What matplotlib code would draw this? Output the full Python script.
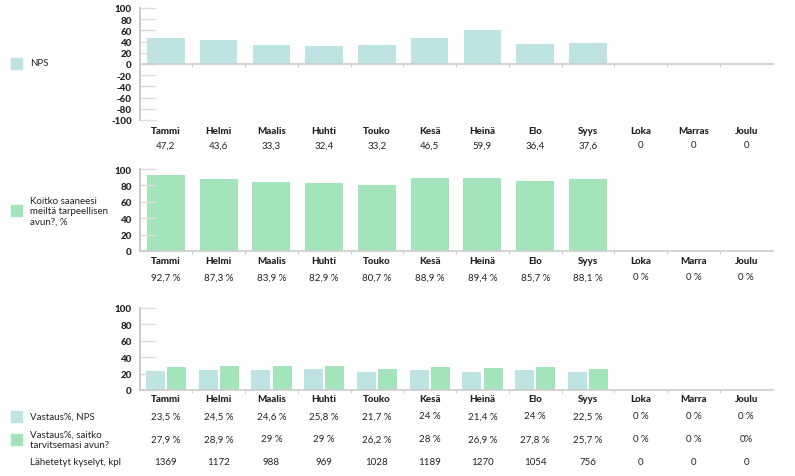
import matplotlib
matplotlib.use('Agg')
import matplotlib.pyplot as plt
from matplotlib.patches import Rectangle
from matplotlib.transforms import blended_transform_factory
import numpy as np

# ── Data ────────────────────────────────────────────────────────────────
months_1 = ['Tammi', 'Helmi', 'Maalis', 'Huhti', 'Touko', 'Kesä', 'Heinä',
            'Elo', 'Syys', 'Loka', 'Marras', 'Joulu']
months_2 = ['Tammi', 'Helmi', 'Maalis', 'Huhti', 'Touko', 'Kesä', 'Heinä',
            'Elo', 'Syys', 'Loka', 'Marra', 'Joulu']

nps = [47.2, 43.6, 33.3, 32.4, 33.2, 46.5, 59.9, 36.4, 37.6, 0, 0, 0]
apu = [92.7, 87.3, 83.9, 82.9, 80.7, 88.9, 89.4, 85.7, 88.1, 0, 0, 0]
vastaus_nps = [23.5, 24.5, 24.6, 25.8, 21.7, 24, 21.4, 24, 22.5, 0, 0, 0]
vastaus_apu = [27.9, 28.9, 29, 29, 26.2, 28, 26.9, 27.8, 25.7, 0, 0, 0]
lahetetyt = [1369, 1172, 988, 969, 1028, 1189, 1270, 1054, 756, 0, 0, 0]

nps_ticks = [-100, -80, -60, -40, -20, 0, 20, 40, 60, 80, 100]
pct_ticks = [0, 20, 40, 60, 80, 100]

CYAN = '#bde3e3'
GREEN = '#a4e4ba'
TEXT = '#222222'
AXIS = '#cccccc'
GRID = '#dddddd'
HEAVY = 'black'

plt.rcParams['font.family'] = ['Lato', 'DejaVu Sans']


def fmt(v, pct=False):
    s = f'{v:g}'.replace('.', ',')
    return s + ' %' if pct else s


W, H = 795, 477
fig = plt.figure(figsize=(W / 100, H / 100), dpi=100)


def fy(px):
    return 1 - px / H


def make_axes(top_px, bottom_px, ticks):
    ax = fig.add_axes([139.6 / W, fy(bottom_px), 633 / W, (bottom_px - top_px) / H])
    ax.set_xlim(0, 12)
    ax.set_ylim(ticks[0], ticks[-1])
    ax.set_yticks(ticks)
    ax.set_yticklabels([str(t) for t in ticks], fontsize=7, fontweight=HEAVY, color=TEXT)
    ax.tick_params(axis='y', direction='in', length=11.5, width=1, color=GRID, pad=5.5)
    ax.set_xticks([])
    ax.set_xticks(np.arange(1, 12), minor=True)
    ax.tick_params(axis='x', which='minor', direction='out', length=2, width=0.8, color=AXIS)
    for s in ['top', 'right']:
        ax.spines[s].set_visible(False)
    ax.spines['left'].set_color(AXIS)
    ax.spines['left'].set_linewidth(1.5)
    ax.spines['bottom'].set_color(AXIS)
    ax.spines['bottom'].set_linewidth(1.2)
    ax.spines['bottom'].set_position(('data', 0))
    ax.patch.set_alpha(0)
    return ax


def row(ax, y_px, labels, bold=False):
    tr = blended_transform_factory(ax.transData, fig.transFigure)
    for i, lab in enumerate(labels):
        ax.text(i + 0.5, fy(y_px), lab, transform=tr, ha='center', va='center',
                fontsize=7, color=TEXT, fontweight=HEAVY if bold else 'normal')


def legend_box(y_px, color):
    fig.patches.append(Rectangle((11 / W, fy(y_px + 5.5)), 11 / W, 11 / H,
                                 transform=fig.transFigure, color=color))


def legend_text(y_px, txt):
    fig.text(30 / W, fy(y_px), txt, ha='left', va='center', fontsize=7,
             color=TEXT, linespacing=1.2)


x = np.arange(12) + 0.5

# ── Panel 1: NPS ────────────────────────────────────────────────────────
ax1 = make_axes(9, 121, nps_ticks)
ax1.bar(x, nps, width=0.71, color=CYAN)
row(ax1, 131, months_1, bold=True)
row(ax1, 146, [fmt(v) for v in nps])
legend_box(64, CYAN)
legend_text(64, 'NPS')

# ── Panel 2: Koitko saaneesi ... ───────────────────────────────────────
ax2 = make_axes(170, 252, pct_ticks)
ax2.bar(x, apu, width=0.72, color=GREEN)
row(ax2, 262, months_2, bold=True)
row(ax2, 278, [fmt(v, True) for v in apu])
legend_box(211, GREEN)
legend_text(212, 'Koitko saaneesi\nmeiltä tarpeellisen\navun?, %')

# ── Panel 3: Vastaus% ───────────────────────────────────────────────────
ax3 = make_axes(309, 391, pct_ticks)
ax3.bar(x - 0.2, vastaus_nps, width=0.36, color=CYAN)
ax3.bar(x + 0.2, vastaus_apu, width=0.36, color=GREEN)
row(ax3, 400, months_2, bold=True)
row(ax3, 417, [fmt(v, True) for v in vastaus_nps])
apu_labels = [fmt(v, True) for v in vastaus_apu]
apu_labels[-1] = '0%'
row(ax3, 440, apu_labels)
row(ax3, 463, [str(v) for v in lahetetyt])
legend_box(417, CYAN)
legend_text(417, 'Vastaus%, NPS')
legend_box(440, GREEN)
legend_text(440, 'Vastaus%, saitko\ntarvitsemasi avun?')
legend_text(463, 'Lähetetyt kyselyt, kpl')

fig.savefig('out.png', dpi=100)
